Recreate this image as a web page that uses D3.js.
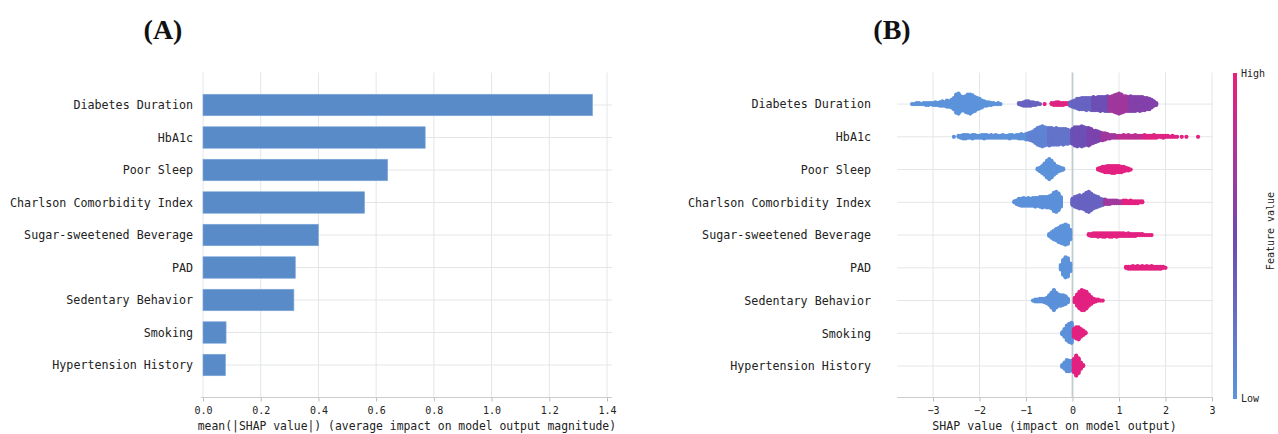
<!DOCTYPE html>
<html><head><meta charset="utf-8">
<script src="https://cdn.jsdelivr.net/npm/d3@7"></script>
<style>body{margin:0;background:#fff} svg{display:block}</style>
</head><body>
<svg id="chart" width="1278" height="434"></svg>
<script>
// ---------------- DATA ----------------
const features = ["Diabetes Duration","HbA1c","Poor Sleep","Charlson Comorbidity Index","Sugar-sweetened Beverage","PAD","Sedentary Behavior","Smoking","Hypertension History"];
const meanAbsShap = [1.35,0.77,0.64,0.56,0.40,0.32,0.315,0.08,0.078];
const barTicks = [0,0.2,0.4,0.6,0.8,1.0,1.2,1.4];
const shapTicks = [-3,-2,-1,0,1,2,3];
const panelTitles = ["(A)","(B)"];
const colorbarLabels = ["High","Low","Feature value"];

// beeswarm bins per feature: [first SHAP value, bin step, feature value (0=low..1=high), counts per bin]
const swarmDiabetesDuration = [
  [-3.45,0.05,0.02,[1,1,2,2,1,2,3,3,2,3,4,3,5,6,5,8,7,10,14,22,24,18,16,19,22,23,20,17,14,12,9,6,5,4,3,2,1,2,1]],
  [-1.15,0.05,0.33,[2,3,5,6,6,5,4,3,2,1]],
  [-0.60,0.05,1.0,[1]],
  [-0.45,0.05,0.95,[2,3,4,4,3,3,2,2]],
  [-0.05,0.05,0.32,[5,7,9,12,13,14,14,15,14,15]],
  [0.45,0.05,0.45,[16,15,16,17,16,17,18]],
  [0.80,0.05,0.70,[17,18,20,22,24,22,19,18,17]],
  [1.25,0.05,0.58,[18,17,17,16,17,16,15,14,13,10,6,3]]
];
const swarmHbA1c = [
  [-2.55,0.05,0.03,[1,0,2,3,5,5,4,3,5,4,3,3,4,5,4,3,4,3,4,3,3,4,3,3,5,4,3,4,5,6,5,7]],
  [-0.95,0.05,0.12,[8,10,12,16,20,22,24,22,20]],
  [-0.50,0.05,0.22,[21,20,19,20,19,18,19,18,17,15]],
  [0.00,0.05,0.45,[18,22,23,22,24,22,20]],
  [0.35,0.05,0.55,[21,18,15,14,12,10]],
  [0.65,0.05,0.70,[9,8,6,5,4,4,3]],
  [1.00,0.05,0.82,[3,3,4,3,4,3,3,4,3,3,3]],
  [1.55,0.05,0.95,[4,3,3,3,4,3,2,2,3,2,2,1,2,1,1]],
  [2.35,0.10,0.97,[1,1]],
  [2.70,0.05,0.98,[1]]
];
const swarmPoorSleep = [
  [-0.75,0.05,0.02,[2,5,9,14,20,24,20,14,9,6,4,2]],
  [0.55,0.05,0.97,[2,4,6,7,8,8,9,9,8,8,7,6,4,3,1]]
];
const swarmCharlson = [
  [-1.25,0.05,0.03,[2,5,8,9,10,9,10,9,10,11,10,12,13,12,13,14,16,22,24,20,12]],
  [0.00,0.05,0.33,[8,12,14,16,15,18,22,24,20,16,14,12,9,7]],
  [0.70,0.05,0.70,[6,5,5,4,4,4,3,3]],
  [1.10,0.05,0.97,[4,4,3,4,3,3,3,2,2]]
];
const swarmSugar = [
  [-0.50,0.05,0.02,[3,7,11,14,17,20,22,24,22,12]],
  [0.35,0.05,0.97,[2,3,4,4,5,4,5,5,4,5,5,4,5,4,4,4,3,4,3,3,3,2,2,2,1,1,1,1]]
];
const swarmPAD = [
  [-0.25,0.05,0.02,[6,18,24,22,10]],
  [1.15,0.05,0.97,[2,3,3,4,3,4,3,4,3,4,3,4,3,3,3,3,2,1]]
];
const swarmSedentary = [
  [-0.85,0.05,0.03,[1,3,3,4,4,5,7,12,18,24,18,14,13,12,10,5]],
  [0.05,0.05,0.97,[6,14,20,24,23,20,14,9,5,3,2,1,1]]
];
const swarmSmoking = [
  [-0.22,0.05,0.03,[3,10,18,22,24]],
  [0.03,0.05,0.97,[10,14,15,10,6,2]]
];
const swarmHypertension = [
  [-0.22,0.05,0.03,[3,8,14,13,12]],
  [0.03,0.05,0.97,[16,24,18,8,2]]
];
const swarms = [swarmDiabetesDuration,swarmHbA1c,swarmPoorSleep,swarmCharlson,swarmSugar,swarmPAD,swarmSedentary,swarmSmoking,swarmHypertension];

// ---------------- STYLE ----------------
const mono = "'DejaVu Sans Mono', monospace";
const serif = "'Liberation Serif', 'Times New Roman', serif";
const barColor = "#5a8bc9";
const gridColor = "#e3e6e9";
const textColor = "#222";
const cmap = d3.piecewise(d3.interpolateRgb, ["#5b96dd", "#6f48b2", "#ea1f7d"]);

const svg = d3.select("#chart");

// ---------------- PANEL A ----------------
const xA = d3.scaleLinear().domain([0, 1.4]).range([203, 607]);
const yA = d3.scaleLinear().domain([-1, 9]).range([72.5, 397.5]);
const gA = svg.append("g");

// vertical grid
gA.selectAll("line.vg").data(barTicks).join("line")
  .attr("x1", d => xA(d)).attr("x2", d => xA(d))
  .attr("y1", yA(-1)).attr("y2", yA(9))
  .attr("stroke", gridColor).attr("stroke-width", 1);
// horizontal grid
gA.selectAll("line.hg").data(features).join("line")
  .attr("x1", xA(0)).attr("x2", xA(1.417))
  .attr("y1", (d, i) => yA(i)).attr("y2", (d, i) => yA(i))
  .attr("stroke", gridColor).attr("stroke-width", 1);
// bars
const barH = 21.5;
gA.selectAll("rect.bar").data(meanAbsShap).join("rect")
  .attr("x", xA(0)).attr("y", (d, i) => yA(i) - barH / 2)
  .attr("width", d => xA(d) - xA(0)).attr("height", barH)
  .attr("fill", barColor).attr("stroke", "#7eaadb").attr("stroke-width", 0.6);
// axis
const axA = gA.append("g").attr("transform", `translate(0,${yA(9)})`)
  .call(d3.axisBottom(xA).tickValues(barTicks).tickFormat(d3.format(".1f")).tickSize(4).tickSizeOuter(0).tickPadding(5));
axA.select(".domain").remove();
axA.selectAll(".tick line").attr("stroke", "#bbb");
axA.selectAll(".tick text").attr("font-family", mono).attr("font-size", 10).attr("fill", textColor);
gA.append("line").attr("x1", xA(-0.007)).attr("x2", xA(1.417)).attr("y1", yA(9)).attr("y2", yA(9)).attr("stroke", "#ccc");
// y labels
gA.selectAll("text.yl").data(features).join("text")
  .attr("x", 193).attr("y", (d, i) => yA(i)).attr("dy", "0.36em")
  .attr("text-anchor", "end").attr("font-family", mono).attr("font-size", 11.7).attr("fill", textColor)
  .text(d => d);
gA.append("text").attr("x", (xA(-0.007) + xA(1.417)) / 2 + 0.5).attr("y", 430)
  .attr("text-anchor", "middle").attr("font-family", mono).attr("font-size", 11.4).attr("fill", textColor)
  .text("mean(|SHAP value|) (average impact on model output magnitude)");

// ---------------- PANEL B ----------------
const xB = d3.scaleLinear().domain([-3, 3]).range([933, 1212]);
const yB = d3.scaleLinear().domain([-1, 9]).range([71.3, 398.8]);
const gB = svg.append("g");
const xBmin = xB(-3.77), xBmax = xB(3.02);

gB.selectAll("line.hg").data(features).join("line")
  .attr("x1", xBmin).attr("x2", xBmax)
  .attr("y1", (d, i) => yB(i)).attr("y2", (d, i) => yB(i))
  .attr("stroke", gridColor).attr("stroke-width", 1);
gB.selectAll("line.vg").data(shapTicks).join("line")
  .attr("x1", d => xB(d)).attr("x2", d => xB(d))
  .attr("y1", 72.5).attr("y2", 397.5)
  .attr("stroke", d => d === 0 ? "#c3cbd2" : gridColor).attr("stroke-width", d => d === 0 ? 1.8 : 1);

// beeswarm
function layoutRow(clusters) {
  const bins = new Map();
  clusters.forEach(([x0, step, fv, counts]) => {
    counts.forEach((c, i) => {
      const s = +(x0 + i * step).toFixed(3);
      if (!bins.has(s)) bins.set(s, []);
      for (let k = 0; k < c; k++) bins.get(s).push(fv);
    });
  });
  const pts = [];
  let maxOff = 0;
  bins.forEach((vals, s) => {
    vals.forEach((v, layer) => {
      const off = Math.ceil(layer / 2) * ((layer % 2) * 2 - 1);
      maxOff = Math.max(maxOff, off);
      pts.push({ s, v, off });
    });
  });
  pts.forEach(p => p.off = p.off / (maxOff + 1));
  return pts;
}
const spreadPx = 11.2;
swarms.forEach((clusters, i) => {
  const pts = layoutRow(clusters);
  gB.append("g").selectAll("circle").data(pts).join("circle")
    .attr("cx", d => xB(d.s)).attr("cy", d => yB(i) - d.off * spreadPx)
    .attr("r", 2.1).attr("fill", d => cmap(d.v));
});

const axB = gB.append("g").attr("transform", `translate(0,397.5)`)
  .call(d3.axisBottom(xB).tickValues(shapTicks).tickFormat(d3.format("d")).tickSize(4).tickSizeOuter(0).tickPadding(5));
axB.select(".domain").remove();
axB.selectAll(".tick line").attr("stroke", "#bbb");
axB.selectAll(".tick text").attr("font-family", mono).attr("font-size", 10).attr("fill", textColor);
gB.append("line").attr("x1", xBmin).attr("x2", xBmax).attr("y1", 397.5).attr("y2", 397.5).attr("stroke", "#ccc");

gB.selectAll("text.yl").data(features).join("text")
  .attr("x", 871).attr("y", (d, i) => yB(i)).attr("dy", "0.36em")
  .attr("text-anchor", "end").attr("font-family", mono).attr("font-size", 11.7).attr("fill", textColor)
  .text(d => d);
gB.append("text").attr("x", 1054.5).attr("y", 430)
  .attr("text-anchor", "middle").attr("font-family", mono).attr("font-size", 11.6).attr("fill", textColor)
  .text("SHAP value (impact on model output)");

// colorbar
const defs = svg.append("defs");
const grad = defs.append("linearGradient").attr("id", "cb").attr("x1", 0).attr("x2", 0).attr("y1", 1).attr("y2", 0);
d3.range(0, 1.0001, 0.1).forEach(t => grad.append("stop").attr("offset", t).attr("stop-color", cmap(t)));
svg.append("rect").attr("x", 1233).attr("y", 73).attr("width", 4).attr("height", 326).attr("fill", "url(#cb)");
svg.append("text").attr("x", 1241).attr("y", 73).attr("dy", "0.35em").attr("font-family", mono).attr("font-size", 10).attr("fill", textColor).text(colorbarLabels[0]);
svg.append("text").attr("x", 1241).attr("y", 398).attr("dy", "0.35em").attr("font-family", mono).attr("font-size", 10).attr("fill", textColor).text(colorbarLabels[1]);
svg.append("text").attr("transform", "translate(1270,231) rotate(-90)").attr("text-anchor", "middle").attr("dy", "0.35em")
  .attr("font-family", mono).attr("font-size", 10).attr("fill", textColor).text(colorbarLabels[2]);

// panel titles
svg.append("text").attr("x", 163).attr("y", 39).attr("text-anchor", "middle").attr("font-family", serif).attr("font-size", 28).attr("font-weight", "bold").attr("fill", "#111").text(panelTitles[0]);
svg.append("text").attr("x", 892).attr("y", 39).attr("text-anchor", "middle").attr("font-family", serif).attr("font-size", 28).attr("font-weight", "bold").attr("fill", "#111").text(panelTitles[1]);
</script>
</body></html>
